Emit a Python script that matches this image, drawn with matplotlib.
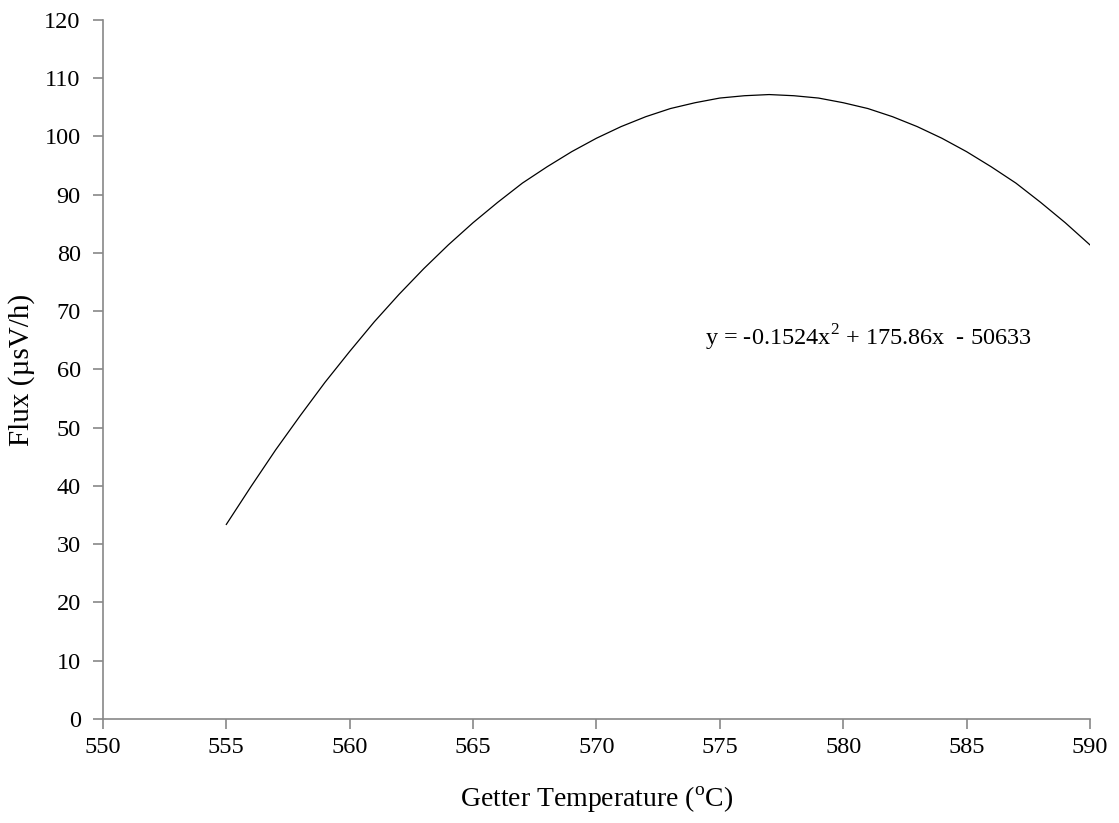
import matplotlib
matplotlib.use('Agg')
import matplotlib.pyplot as plt

# Getter temperature (oC) and flux (uSv/h)
temperature = list(range(555, 591))
flux = [33.4, 39.9, 46.2, 52.1, 57.8, 63.1, 68.2, 72.9, 77.3, 81.4,
        85.2, 88.7, 92.0, 94.8, 97.4, 99.7, 101.7, 103.4, 104.8, 105.8,
        106.6, 107.0, 107.2, 107.0, 106.6, 105.8, 104.8, 103.4, 101.7, 99.7,
        97.4, 94.8, 92.0, 88.7, 85.2, 81.4]

x_ticks = [550, 555, 560, 565, 570, 575, 580, 585, 590]
y_ticks = list(range(0, 121, 10))
equation = 'y = -0.1524x$^2$ + 175.86x  - 50633'

plt.rcParams['font.family'] = ['Liberation Serif', 'DejaVu Serif']
plt.rcParams['mathtext.fontset'] = 'custom'
plt.rcParams['mathtext.rm'] = 'Liberation Serif'

fig = plt.figure(figsize=(11.19, 8.23), dpi=100)
ax = fig.add_axes([0.092, 0.1264, 0.882, 0.8493])

ax.plot(temperature, flux, color='black', linewidth=0.9)

ax.set_xlim(550, 590)
ax.set_ylim(0, 120)
ax.set_xticks(x_ticks)
ax.set_yticks(y_ticks)

for side in ['top', 'right']:
    ax.spines[side].set_visible(False)
for side in ['left', 'bottom']:
    ax.spines[side].set_color('#888888')
    ax.spines[side].set_linewidth(1.2)

ax.tick_params(axis='both', direction='out', length=7, width=1.2,
               color='#888888', labelsize=17.5, pad=6)
ax.tick_params(axis='y', pad=9)

ax.text(574.4, 65.5, equation, fontsize=17.5, va='center', ha='left')

ax.set_xlabel('Getter Temperature ($^{\\mathrm{o}}$C)', fontsize=20)
ax.set_ylabel('Flux (µsV/h)', fontsize=21)
ax.xaxis.set_label_coords(0.5, -0.116)
ax.xaxis.label.set_va('center')
ax.yaxis.set_label_coords(-0.082, 0.5)
ax.yaxis.label.set_va('center')

plt.savefig('out.png', dpi=100)
plt.close()
